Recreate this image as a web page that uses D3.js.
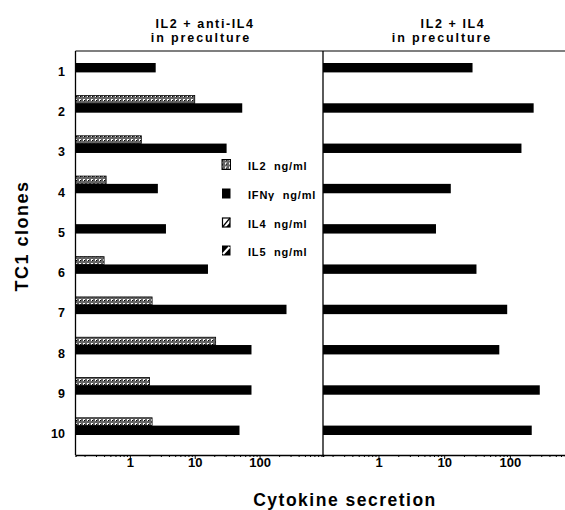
<!DOCTYPE html>
<html><head><meta charset="utf-8">
<script src="https://cdn.jsdelivr.net/npm/d3@7/dist/d3.min.js"></script>
<style>
body{margin:0;background:#fff;}
svg{display:block;font-family:"Liberation Sans",Arial,Helvetica,sans-serif;}
</style></head>
<body>
<svg id="chart" width="565" height="510"></svg>
<script>
// ---- data ----
const clones = ["1","2","3","4","5","6","7","8","9","10"];
const il2Left  = [null, 10, 1.5, 0.43, null, 0.40, 2.2, 21, 2.0, 2.2];
const ifnLeft  = [2.5, 54, 31, 2.7, 3.6, 16, 260, 75, 75, 49];
const ifnRight = [27, 230, 150, 12.6, 7.5, 31, 91, 69, 285, 215];
const panelTitles = [["IL2 + anti-IL4","in preculture"],["IL2 + IL4","in preculture"]];
const legendLabels = ["IL2  ng/ml","IFN\u03b3  ng/ml","IL4  ng/ml","IL5  ng/ml"];
const majorTicks = [1,10,100];
const yTitle = "TC1 clones";
const xTitle = "Cytokine secretion";

const svg = d3.select("#chart");
const defs = svg.append("defs");
const pat = defs.append("pattern").attr("id","stip").attr("patternUnits","userSpaceOnUse")
  .attr("width",4).attr("height",4);
pat.append("rect").attr("width",4).attr("height",4).attr("fill","#fff");
pat.append("circle").attr("cx",2).attr("cy",2).attr("r",1.3).attr("fill","none").attr("stroke","#000").attr("stroke-width",1);
pat.append("rect").attr("x",0).attr("y",0).attr("width",1).attr("height",1).attr("fill","#000");

const plotTop = 51, plotBottom = 455, plotLeft = 75.5, plotMid = 323, plotRight = 565;
const xL = d3.scaleLog().domain([0.145, 950]).range([plotLeft, plotMid]);
const xR = d3.scaleLog().domain([0.143, 690]).range([plotMid, plotRight]);
const y = d3.scalePoint().domain(clones).range([67.7, 430.3]);

const ifnH = 9.4, il2H = 7.8;

function minorTicks(scale){
  const [a,b] = scale.domain();
  const out = [];
  for (let p=-1;p<=3;p++) for (let m=1;m<=9;m++){
    const v = m*Math.pow(10,p);
    if (v>=a && v<=b) out.push(v);
  }
  return out;
}

function drawPanel(x, il2, ifn, title, cx){
  const g = svg.append("g");
  g.selectAll(".il2").data(clones.map((c,i)=>({c,v:il2[i]})).filter(d=>d.v!=null))
    .enter().append("rect")
    .attr("x", x.range()[0]).attr("y", d=>y(d.c)-ifnH/2-il2H)
    .attr("width", d=>x(d.v)-x.range()[0]).attr("height", il2H)
    .attr("fill","url(#stip)").attr("stroke","#000").attr("stroke-width",0.8);
  g.selectAll(".ifn").data(clones.map((c,i)=>({c,v:ifn[i]})))
    .enter().append("rect")
    .attr("x", x.range()[0]).attr("y", d=>y(d.c)-ifnH/2)
    .attr("width", d=>x(d.v)-x.range()[0]).attr("height", ifnH)
    .attr("fill","#000");
  const ax = d3.axisBottom(x).tickValues(minorTicks(x))
    .tickFormat(d=> majorTicks.includes(d) ? d3.format("d")(d) : "")
    .tickSizeOuter(0).tickSize(2);
  const axg = svg.append("g").attr("transform",`translate(0,${plotBottom})`).call(ax);
  axg.select(".domain").attr("stroke","#000").attr("stroke-width",1.3);
  axg.selectAll(".tick line").attr("stroke","#000").attr("stroke-width",1)
    .attr("y2", d=> majorTicks.includes(d) ? 4 : 2);
  axg.selectAll(".tick text").attr("font-size",13).attr("font-weight","bold")
    .attr("fill","#000").attr("dy","0.5em").attr("font-family","inherit");
  svg.append("text").attr("text-anchor","middle").attr("x",cx[0]).attr("y",27.8)
    .attr("font-size",12.5).attr("font-weight","bold").attr("letter-spacing",1.6).text(title[0]);
  svg.append("text").attr("text-anchor","middle").attr("x",cx[1]).attr("y",41.5)
    .attr("font-size",12.5).attr("font-weight","bold").attr("letter-spacing",1.9).text(title[1]);
}

drawPanel(xL, il2Left, ifnLeft, panelTitles[0], [205, 201]);
drawPanel(xR, clones.map(()=>null), ifnRight, panelTitles[1], [453, 442]);

svg.append("line").attr("x1",plotLeft).attr("x2",plotRight).attr("y1",plotTop).attr("y2",plotTop).attr("stroke","#000").attr("stroke-width",1.2);
svg.append("line").attr("x1",plotLeft).attr("x2",plotLeft).attr("y1",plotTop).attr("y2",plotBottom).attr("stroke","#000").attr("stroke-width",1.3);
svg.append("line").attr("x1",plotMid).attr("x2",plotMid).attr("y1",plotTop).attr("y2",plotBottom).attr("stroke","#000").attr("stroke-width",1.3);

const ya = d3.axisLeft(y).tickSize(0).tickPadding(0);
const yg = svg.append("g").attr("transform","translate(65,3.5)").call(ya);
yg.select(".domain").remove();
yg.selectAll(".tick text").attr("font-size",12.5).attr("font-weight","bold").attr("fill","#000").attr("font-family","inherit");

const lg = svg.append("g");
const ly = [164.5,193.5,222.5,250.5];
legendLabels.forEach((t,i)=>{
  const g = lg.append("g").attr("transform",`translate(222,${ly[i]-5})`);
  if(i===0){
    g.append("rect").attr("width",8.5).attr("height",10).attr("fill","url(#stip)").attr("stroke","#000").attr("stroke-width",1);
  } else if(i===1){
    g.append("rect").attr("width",8.5).attr("height",10).attr("fill","#000");
  } else if(i===2){
    g.append("rect").attr("x",0.5).attr("y",0.5).attr("width",7.5).attr("height",9).attr("fill","#fff").attr("stroke","#000").attr("stroke-width",1.2);
    g.append("line").attr("x1",0.5).attr("y1",9.5).attr("x2",8).attr("y2",0.5).attr("stroke","#000").attr("stroke-width",1.2);
    g.append("path").attr("d","M8,5 L8,9.5 L4,9.5 Z").attr("fill","#000");
  } else {
    g.append("rect").attr("width",8.5).attr("height",10).attr("fill","#000");
    g.append("line").attr("x1",1).attr("y1",8.5).attr("x2",7.5).attr("y2",1.5).attr("stroke","#fff").attr("stroke-width",2.2);
  }
  lg.append("text").attr("x",248).attr("y",ly[i]+1.5).attr("dominant-baseline","central")
    .attr("font-size",11).attr("font-weight","bold").attr("letter-spacing",0.8)
    .style("white-space","pre").text(t);
});

svg.append("text").attr("transform","translate(28,236) rotate(-90)").attr("text-anchor","middle")
  .attr("font-size",18).attr("font-weight","bold").attr("letter-spacing",1.5).text(yTitle);
svg.append("text").attr("x",345).attr("y",505.5).attr("text-anchor","middle")
  .attr("font-size",17.5).attr("font-weight","bold").attr("letter-spacing",1.5).text(xTitle);
</script>
</body></html>
